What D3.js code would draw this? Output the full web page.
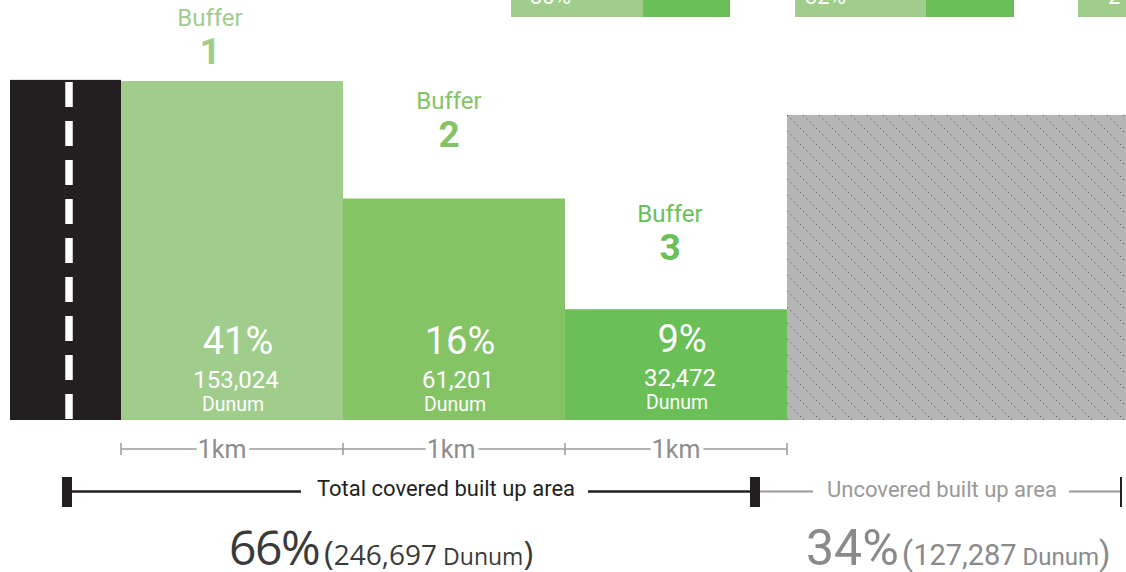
<!DOCTYPE html>
<html>
<head>
<meta charset="utf-8">
<script src="https://cdn.jsdelivr.net/npm/d3@7/dist/d3.min.js"></script>
<style>
  html, body { margin: 0; padding: 0; background: #fff; }
  svg { display: block; font-family: Roboto, "Open Sans", sans-serif; }
</style>
</head>
<body>
<svg id="chart" width="1126" height="572"></svg>
<script>
// ---------------- data ----------------
const buffers = ["1", "2", "3"];
const bufferPercents = [41, 16, 9];
const bufferDunums = [153024, 61201, 32472];
const stepLevels = [3.0, 1.96, 0.98];        // relative step heights
const roadLevel = 3.01;
const uncoveredLevel = 2.7;
const distanceLabels = ["1km", "1km", "1km"];
const coveredLabel = "Total covered built up area";
const uncoveredLabel = "Uncovered built up area";
const totalPercents = [66, 34];
const totalDunums = [246697, 127287];
const topStripLabels = ["30%", "32%", "2"];

// ---------------- layout ----------------
const svg = d3.select("#chart");
const W = 1126, H = 572;
const x = d3.scaleLinear().domain([0, 3]).range([121, 787]);   // km
const y = d3.scaleLinear().domain([0, 3]).range([420, 81]);
const barColors = ["#a0cd8c", "#84c465", "#6abf56"];
const labelColors = ["#a0cd8c", "#84c465", "#6abf56"];
const fmt = d3.format(",");

// hatch pattern
const defs = svg.append("defs");
const pat = defs.append("pattern").attr("id", "hatch")
  .attr("patternUnits", "userSpaceOnUse").attr("width", 16).attr("height", 16);
pat.append("rect").attr("width", 16).attr("height", 16).attr("fill", "#b4b5b4");
pat.append("line").attr("x1", 0).attr("y1", 0).attr("x2", 16).attr("y2", 16)
  .attr("stroke", "#4a4a4a").attr("stroke-width", 1)
  .attr("stroke-dasharray", "1.2 3.33");

// top strip pieces (cropped continuation)
const topPieces = [
  {x0: 511, x1: 643, c: barColors[0]}, {x0: 643, x1: 730, c: barColors[2]},
  {x0: 795, x1: 926, c: barColors[0]}, {x0: 926, x1: 1014, c: barColors[2]},
  {x0: 1078, x1: 1126, c: barColors[0]}
];
svg.selectAll("rect.top").data(topPieces).join("rect").attr("class", "top")
  .attr("x", d => d.x0).attr("y", -10).attr("width", d => d.x1 - d.x0).attr("height", 27)
  .attr("fill", d => d.c);
svg.selectAll("text.top").data(topStripLabels).join("text").attr("class", "top")
  .attr("x", (d, i) => [530, 805, 1108][i]).attr("y", 4)
  .attr("font-size", 22).attr("fill", "#fff").text(d => d);

// road
const roadX0 = x(-0.5), roadX1 = x(0);
svg.append("rect").attr("x", roadX0).attr("y", y(roadLevel))
  .attr("width", roadX1 - roadX0).attr("height", y(0) - y(roadLevel)).attr("fill", "#231f20");
svg.append("line").attr("x1", 69).attr("x2", 69).attr("y1", 82).attr("y2", 420)
  .attr("stroke", "#fff").attr("stroke-width", 7.5).attr("stroke-dasharray", "25 14");

// buffer bars
svg.selectAll("rect.bar").data(stepLevels).join("rect").attr("class", "bar")
  .attr("x", (d, i) => x(i)).attr("y", d => y(d))
  .attr("width", (d, i) => x(i + 1) - x(i)).attr("height", d => y(0) - y(d))
  .attr("fill", (d, i) => barColors[i]);

// uncovered hatched area
svg.append("rect").attr("x", x(3)).attr("y", y(uncoveredLevel))
  .attr("width", W - x(3)).attr("height", y(0) - y(uncoveredLevel))
  .attr("fill", "url(#hatch)");

// buffer titles
const titleBase = [64, 147, 260];
const titleX = [210, 449, 670];
buffers.forEach((b, i) => {
  svg.append("text").attr("x", titleX[i]).attr("y", titleBase[i] - 38).attr("text-anchor", "middle")
    .attr("font-size", 24).attr("fill", labelColors[i]).text("Buffer");
  svg.append("text").attr("x", titleX[i]).attr("y", titleBase[i]).attr("text-anchor", "middle")
    .attr("font-size", 37).attr("font-weight", "bold").attr("fill", labelColors[i]).text(b);
});

// values inside bars
const innerOff = [0, 0, -2];
bufferPercents.forEach((p, i) => {
  const cx = (x(i) + x(i + 1)) / 2 + 4;
  const g = svg.append("g").attr("fill", "#fff").attr("text-anchor", "middle");
  g.append("text").attr("x", cx + 2).attr("y", 354 + innerOff[i]).attr("font-size", 38).text(p + "%");
  g.append("text").attr("x", cx).attr("y", 388 + innerOff[i]).attr("font-size", 24).text(fmt(bufferDunums[i]));
  g.append("text").attr("x", cx - 3).attr("y", 411 + innerOff[i]).attr("font-size", 19.5).text("Dunum");
});

// distance scale
const sy = 449;
const kmCenters = [222, 451, 676];
const scaleG = svg.append("g");
distanceLabels.forEach((lab, i) => {
  const t = scaleG.append("text").attr("x", kmCenters[i]).attr("y", sy + 9)
    .attr("text-anchor", "middle").attr("font-size", 25).attr("fill", "#8c8c8c").text(lab);
  const w = t.node().getComputedTextLength();
  scaleG.append("line").attr("x1", x(i)).attr("x2", kmCenters[i] - w / 2 - 1)
    .attr("y1", sy).attr("y2", sy).attr("stroke", "#9a9a9a").attr("stroke-width", 1.5);
  scaleG.append("line").attr("x1", kmCenters[i] + w / 2 + 3).attr("x2", x(i + 1))
    .attr("y1", sy).attr("y2", sy).attr("stroke", "#9a9a9a").attr("stroke-width", 1.5);
});
scaleG.selectAll("line.tick").data(d3.range(4)).join("line").attr("class", "tick")
  .attr("x1", d => x(d)).attr("x2", d => x(d)).attr("y1", sy - 6).attr("y2", sy + 6)
  .attr("stroke", "#9a9a9a").attr("stroke-width", 1.5);

// covered / uncovered brackets
const by = 491.5;
const covText = svg.append("text").attr("x", 446).attr("y", by + 4).attr("text-anchor", "middle")
  .attr("font-size", 22).attr("fill", "#231f20").text(coveredLabel);
const cw = covText.node().getComputedTextLength();
svg.append("line").attr("x1", 67).attr("x2", 446 - cw / 2 - 16).attr("y1", by).attr("y2", by)
  .attr("stroke", "#231f20").attr("stroke-width", 2.6);
svg.append("line").attr("x1", 446 + cw / 2 + 13).attr("x2", 755).attr("y1", by).attr("y2", by)
  .attr("stroke", "#231f20").attr("stroke-width", 2.6);
svg.append("rect").attr("x", 62).attr("y", 477).attr("width", 10).attr("height", 30).attr("fill", "#231f20");
svg.append("rect").attr("x", 750).attr("y", 477).attr("width", 10).attr("height", 30).attr("fill", "#231f20");

const uncText = svg.append("text").attr("x", 942).attr("y", by + 5).attr("text-anchor", "middle")
  .attr("font-size", 22).attr("fill", "#999").text(uncoveredLabel);
const uw = uncText.node().getComputedTextLength();
svg.append("line").attr("x1", 760).attr("x2", 942 - uw / 2 - 14).attr("y1", by).attr("y2", by)
  .attr("stroke", "#9a9a9a").attr("stroke-width", 2);
svg.append("line").attr("x1", 942 + uw / 2 + 12).attr("x2", 1121).attr("y1", by).attr("y2", by)
  .attr("stroke", "#9a9a9a").attr("stroke-width", 2);
svg.append("rect").attr("x", 1120).attr("y", 477).attr("width", 2).attr("height", 30).attr("fill", "#231f20");

// totals
const totalX = [229, 806];
const totalColors = ["#3a3a3a", "#8a8a8a"];
const totalFonts = ["'Open Sans', sans-serif", "Roboto, sans-serif"];
const pctSize = [48, 50], pctSpacing = [-1.5, 0];
const numSize = [28, 29], unitSize = [23, 24], parenSize = [33, 33];
totalPercents.forEach((p, i) => {
  const t = svg.append("text").attr("x", totalX[i]).attr("y", 565)
    .attr("fill", totalColors[i]).style("font-family", totalFonts[i]);
  t.append("tspan").attr("font-size", pctSize[i]).attr("letter-spacing", pctSpacing[i]).text(p + "%");
  t.append("tspan").attr("font-size", parenSize[i]).attr("dx", i === 0 ? 5 : 3).text("(");
  t.append("tspan").attr("font-size", numSize[i]).text(fmt(totalDunums[i]));
  t.append("tspan").attr("font-size", unitSize[i]).text(" Dunum");
  t.append("tspan").attr("font-size", parenSize[i]).text(")");
});
</script>
</body>
</html>
